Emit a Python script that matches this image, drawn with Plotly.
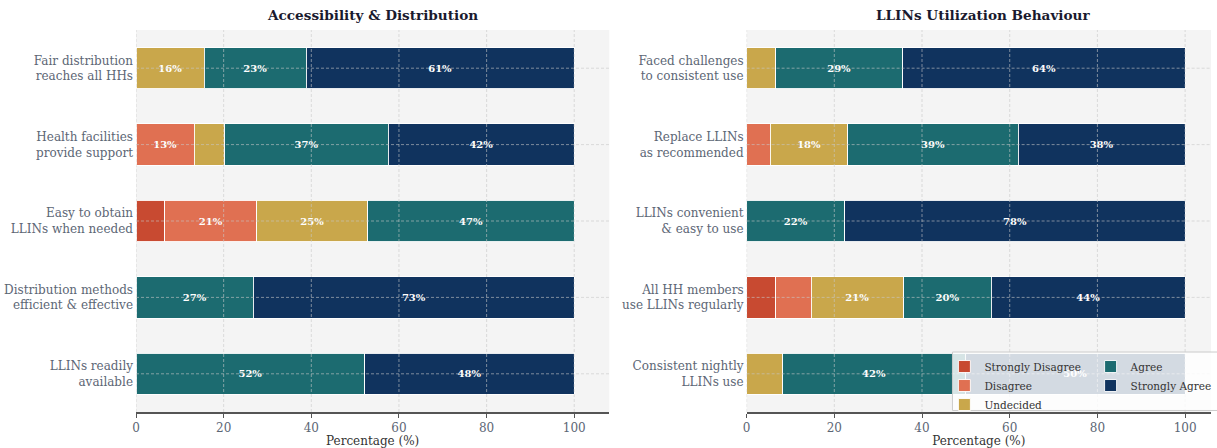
import plotly.graph_objects as go

# ---------------- data ----------------
levels = ["Strongly Disagree", "Disagree", "Undecided", "Agree", "Strongly Agree"]

access_items = [
    "Fair distribution<br>reaches all HHs",
    "Health facilities<br>provide support",
    "Easy to obtain<br>LLINs when needed",
    "Distribution methods<br>efficient & effective",
    "LLINs readily<br>available",
]
access_sd = [0, 0, 6.6, 0, 0]
access_d = [0, 13.3, 20.9, 0, 0]
access_u = [15.6, 6.9, 25.4, 0, 0]
access_a = [23.2, 37.4, 47.1, 26.8, 52.2]
access_sa = [61.2, 42.4, 0, 73.2, 47.8]

util_items = [
    "Faced challenges<br>to consistent use",
    "Replace LLINs<br>as recommended",
    "LLINs convenient<br>& easy to use",
    "All HH members<br>use LLINs regularly",
    "Consistent nightly<br>LLINs use",
]
util_sd = [0, 0, 0, 6.6, 0]
util_d = [0, 5.4, 0, 8.1, 0]
util_u = [6.6, 17.7, 0, 21.1, 8.2]
util_a = [29.0, 38.8, 22.4, 20.0, 41.7]
util_sa = [64.4, 38.1, 77.6, 44.2, 50.1]

x_ticks = [0, 20, 40, 60, 80, 100]
panel_titles = ["Accessibility & Distribution", "LLINs Utilization Behaviour"]

# ---------------- style ----------------
colors = ["#c84a31", "#e07052", "#c9a74b", "#1c6b70", "#10335e"]
SERIF = "DejaVu Serif"
LABEL_COL = "#5c6675"
GRID_COL = "rgba(200,200,200,0.75)"

fig = go.Figure()

panels = [
    (access_items, [access_sd, access_d, access_u, access_a, access_sa], "x", "y"),
    (util_items, [util_sd, util_d, util_u, util_a, util_sa], "x2", "y2"),
]

for pi, (items, series, xa, ya) in enumerate(panels):
    for li, (lvl, vals) in enumerate(zip(levels, series)):
        fig.add_trace(go.Bar(
            y=items,
            x=[v if v > 0 else None for v in vals],
            orientation="h",
            name=lvl,
            marker=dict(color=colors[li], line=dict(color="rgba(255,255,255,0.9)", width=1)),
            width=0.54,
            text=[f"{v:.0f}%" if v >= 10 else "" for v in vals],
            textposition="inside",
            insidetextanchor="middle",
            textangle=0,
            textfont=dict(family=SERIF, size=10, color="white", weight="bold"),
            xaxis=xa, yaxis=ya,
            showlegend=(pi == 1),
            legend=("legend" if li < 3 else "legend2"),
            hoverinfo="x+y+name",
        ))

# ---------------- axes ----------------
ax_common = dict(
    showgrid=False, zeroline=False,
    showline=True, linecolor="#555555", linewidth=2,
    ticks="outside", ticklen=4, tickcolor="#555555", tickwidth=1,
    tickvals=x_ticks,
    tickfont=dict(family=SERIF, size=12, color=LABEL_COL),
    title=dict(text="Percentage (%)", font=dict(family=SERIF, size=12, color="#333333"), standoff=2),
    automargin=False, fixedrange=True,
)
ay_common = dict(
    type="category", showgrid=False, zeroline=False, showline=False,
    ticks="", range=[4.5, -0.5],
    tickfont=dict(family=SERIF, size=12, color=LABEL_COL),
    ticklabelstandoff=2, automargin=False, fixedrange=True,
)

fig.update_layout(
    xaxis=dict(domain=[0, 0.4403], range=[0, 108], anchor="y", **ax_common),
    xaxis2=dict(domain=[0.568, 1], range=[0, 105.9], anchor="y2", **ax_common),
    yaxis=dict(anchor="x", categoryorder="array", categoryarray=access_items, **ay_common),
    yaxis2=dict(anchor="x2", categoryorder="array", categoryarray=util_items, **ay_common),
)

# ---------------- grid (drawn above bars, like the reference) ----------------
shapes = []
for xa, ya, items in [("x", "y", access_items), ("x2", "y2", util_items)]:
    for t in x_ticks:
        shapes.append(dict(type="line", xref=xa, yref=f"{ya} domain", x0=t, x1=t, y0=0, y1=1,
                           line=dict(color=GRID_COL, width=0.8, dash="3px,2px"), layer="above"))
    for it in items:
        shapes.append(dict(type="line", xref=f"{xa} domain", yref=ya, x0=0, x1=1, y0=it, y1=it,
                           line=dict(color=GRID_COL, width=0.8, dash="3px,2px"), layer="above"))

# legend background box
shapes.append(dict(type="rect", xref="paper", yref="paper", x0=0.7595, x1=1.02, y0=0.004, y1=0.157,
                   fillcolor="rgba(255,255,255,0.82)", line=dict(color="#cccccc", width=1), layer="above"))

annotations = []
for xa, t in [("x", panel_titles[0]), ("x2", panel_titles[1])]:
    annotations.append(dict(text=f"<b>{t}</b>", xref=xa, yref="paper", x=54, y=1, yanchor="bottom",
                            yshift=5, showarrow=False,
                            font=dict(family=SERIF, size=13.6, color="#1a1a2e")))

legend_style = dict(
    bgcolor="rgba(0,0,0,0)", borderwidth=0,
    font=dict(family=SERIF, size=10.5, color="#333333"),
    orientation="v", xanchor="left", yanchor="top", traceorder="normal",
    itemclick=False, itemdoubleclick=False,
)

fig.update_layout(
    width=1217, height=448, autosize=False,
    margin=dict(l=136, r=0, t=30, b=36, pad=0),
    paper_bgcolor="white", plot_bgcolor="#f4f4f4",
    barmode="stack",
    shapes=shapes, annotations=annotations,
    legend=dict(x=0.752, y=0.157, **legend_style),
    legend2=dict(x=0.888, y=0.157, **legend_style),
    font=dict(family=SERIF),
)

fig.write_html(
    "out.html",
    config={"displayModeBar": False},
    post_script="document.body.style.margin='0';document.body.style.overflow='hidden';",
)
